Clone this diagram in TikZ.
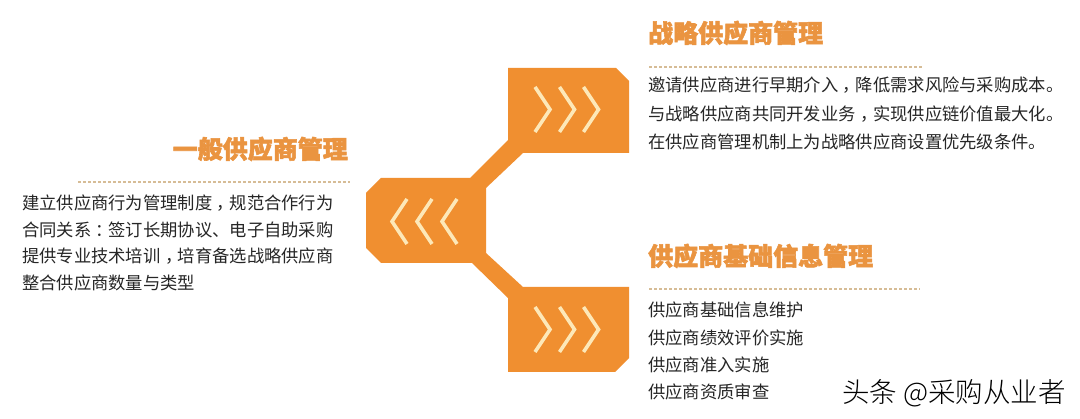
\documentclass[tikz,border=0pt]{standalone}
\usepackage{fontspec}
\newfontfamily\cjk{Noto Sans CJK SC}
\newfontfamily\cjkheavy[FakeBold=2.2]{Noto Sans CJK SC}
\newfontfamily\cjklight{Noto Sans CJK SC Light}
\newcommand\cpunc[1]{\hspace{0.26em}\makebox[0.74em][l]{#1}}
\definecolor{shapeor}{RGB}{240,143,48}
\definecolor{cream}{RGB}{253,232,184}
\definecolor{titleor}{RGB}{234,148,64}
\definecolor{bodytxt}{RGB}{38,38,38}
\definecolor{dashc}{RGB}{214,188,150}
\tikzset{
  chev/.style={draw=cream, line width=3.6pt, line join=miter, line cap=butt},
  ttl/.style={inner sep=0pt, text=titleor, font=\cjkheavy\bfseries\fontsize{25}{25}\selectfont},
  bdy/.style={inner sep=0pt, text=bodytxt, font=\cjk\fontsize{17.3}{17.3}\selectfont, anchor=base west},
  sep/.style={draw=dashc, line width=1.2pt, dash pattern=on 3pt off 2pt}
}
\begin{document}
\begin{tikzpicture}[x=1pt,y=-1pt]
\useasboundingbox (0,0) rectangle (1080,419);
\fill[white] (0,0) rectangle (1080,419);
% orange branching shape
\fill[shapeor] (508,68) -- (616,68) -- (629,81) -- (629,153) -- (523,153) -- (486,188)
  -- (486,253) -- (523,287) -- (629,287) -- (629,358) -- (615,372) -- (508,372)
  -- (508,298) -- (472,263) -- (381,263) -- (366,248) -- (366,193) -- (381,178)
  -- (470,178) -- (508,140) -- cycle;
% chevrons
\foreach \x in {535,559.5,583.5}{
  \draw[chev] (\x,87) -- (\x+15,109.5) -- (\x,132);
  \draw[chev] (\x,307) -- (\x+15,329.5) -- (\x,352);
}
\foreach \x in {392,417,442}{
  \draw[chev] (\x+15,199) -- (\x,221.5) -- (\x+15,244);
}
% titles
\node[ttl, anchor=base east] (tl) at (348,158.5) {一般供应商管理};
\node[ttl, anchor=base west] (tr) at (648,42.5) {战略供应商管理};
\node[ttl, anchor=base west] (br) at (648,265.5) {供应商基础信息管理};
% dashed separators
\draw[sep] (78,182) -- (350,182);
\draw[sep] (649,67) -- (922,67);
\draw[sep] (649,289) -- (920,289);
% left body
\node[bdy] (l1) at (22,209.6) {建立供应商行为管理制度\cpunc{，}规范合作行为};
\node[bdy] (l2) at (22,236.6) {合同关系\cpunc{：}签订长期协议、电子自助采购};
\node[bdy] (l3) at (22,262.6) {提供专业技术培训\cpunc{，}培育备选战略供应商};
\node[bdy] (l4) at (22,289.6) {整合供应商数量与类型};
% top right body
\node[bdy] (r1) at (648,91.6) {邀请供应商进行早期介入\cpunc{，}降低需求风险与采购成本。};
\node[bdy] (r2) at (648,120.1) {与战略供应商共同开发业务\cpunc{，}实现供应链价值最大化。};
\node[bdy] (r3) at (648,148.6) {在供应商管理机制上为战略供应商设置优先级条件。};
% bottom right body
\node[bdy] (b1) at (648,316.6) {供应商基础信息维护};
\node[bdy] (b2) at (648,344.1) {供应商绩效评价实施};
\node[bdy] (b3) at (648,371.1) {供应商准入实施};
\node[bdy] (b4) at (648,398.6) {供应商资质审查};
% watermark
\node[inner sep=0pt, anchor=base west, text=black, font=\cjklight\fontsize{27.5}{27.5}\selectfont] (wm) at (842,402.5) {头条 @采购从业者};
\end{tikzpicture}
\end{document}
